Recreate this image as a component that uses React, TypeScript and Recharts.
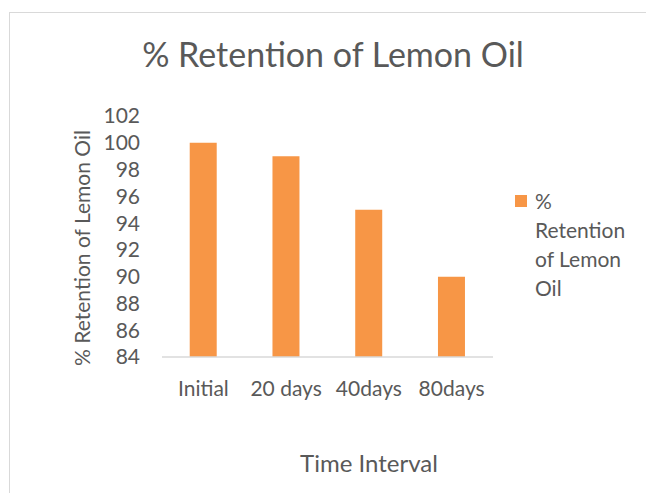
import React from "react"
import { BarChart, Bar, XAxis, YAxis } from "recharts"

const categories = ["Initial", "20 days", "40days", "80days"]
const retention = [100, 99, 95, 90]
const yTicks = [84, 86, 88, 90, 92, 94, 96, 98, 100, 102]
const seriesName = "% Retention of Lemon Oil"
const legendLines = ["%", "Retention", "of Lemon", "Oil"]

const data = categories.map((c, i) => ({ name: c, value: retention[i] }))

const FONT = "Lato, 'Open Sans', sans-serif"
const TEXT = "#595959"
const ORANGE = "#F79646"

function LegendBox() {
  return (
    <div
      style={{
        position: "absolute",
        left: 515,
        top: 186,
        fontFamily: FONT,
        fontSize: 21,
        color: TEXT,
        lineHeight: "29px",
      }}
    >
      <span style={{ position: "absolute", left: 0, top: 9, width: 12, height: 12, background: ORANGE }} />
      <div style={{ paddingLeft: 20 }}>
        {legendLines.map((l) => (
          <div key={l}>{l}</div>
        ))}
      </div>
    </div>
  )
}

export default function App() {
  return (
    <div style={{ position: "absolute", left: 0, top: 0, width: 646, height: 493, background: "#fff", overflow: "hidden" }}>
      <div
        style={{
          position: "absolute",
          left: 9,
          top: 12,
          width: 660,
          height: 500,
          border: "1px solid #d9d9d9",
          boxSizing: "border-box",
        }}
      />
      <BarChart
        width={646}
        height={493}
        data={data}
        margin={{ top: 116, right: 153, bottom: 20, left: 0 }}
        barCategoryGap="33.5%"
        style={{ position: "absolute", left: 0, top: 0 }}
      >
        <text x={333} y={67} textAnchor="middle" fontFamily={FONT} fontSize={34} fill={TEXT}>
          {seriesName}
        </text>
        <text
          x={0}
          y={0}
          transform="translate(90 248) rotate(-90)"
          textAnchor="middle"
          fontFamily={FONT}
          fontSize={21}
          fill={TEXT}
        >
          {seriesName}
        </text>
        <text x={369} y={472} textAnchor="middle" fontFamily={FONT} fontSize={24} fill={TEXT}>
          Time Interval
        </text>
        <XAxis
          dataKey="name"
          height={116}
          axisLine={{ stroke: "#d9d9d9", strokeWidth: 1.5 }}
          tickLine={false}
          tickMargin={18}
          tick={{ fontFamily: FONT, fontSize: 21, fill: TEXT }}
          interval={0}
        />
        <YAxis
          width={162}
          domain={[84, 102]}
          ticks={yTicks}
          interval={0}
          axisLine={false}
          tickLine={false}
          tickMargin={16}
          tick={{ fontFamily: FONT, fontSize: 21, fill: TEXT }}
          allowDataOverflow
        />
        <Bar dataKey="value" name={seriesName} fill={ORANGE} isAnimationActive={false} />
      </BarChart>
      <LegendBox />
    </div>
  )
}
